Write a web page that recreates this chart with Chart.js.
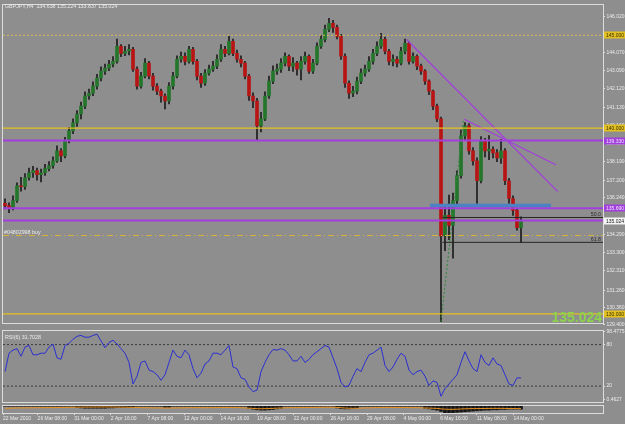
<!DOCTYPE html>
<html>
<head>
<meta charset="utf-8">
<title>GBPJPY,H4</title>
<script src="https://cdn.jsdelivr.net/npm/chart.js@4.4.1/dist/chart.umd.min.js"></script>
<style>
  html, body { margin: 0; padding: 0; background: #8e8e8e; }
  #wrap { position: relative; width: 625px; height: 424px; overflow: hidden; background: #8e8e8e; }
  canvas { position: absolute; left: 0; }
</style>
</head>
<body>
<div id="wrap">
  <canvas id="priceChart" width="625" height="332" style="top:0"></canvas>
  <canvas id="rsiChart" width="625" height="80" style="top:326px"></canvas>
  <canvas id="oscChart" width="625" height="20" style="top:404px"></canvas>
</div>
<script>
// ---- data (H4 bars, 22 Mar - 14 May 2010) ----
const candleOpen = [
  135.95,135.83,135.72,136.10,136.90,136.85,137.33,137.60,137.71,137.49,
  137.60,137.82,137.98,138.24,138.78,138.51,139.32,139.85,140.28,140.76,
  141.19,141.73,141.89,142.26,142.69,143.07,143.23,143.44,143.60,144.41,
  144.03,144.14,144.25,143.18,142.26,142.80,143.50,142.80,142.26,141.99,
  141.73,141.46,142.26,142.80,143.71,143.87,143.60,144.25,143.60,142.80,
  142.42,142.96,143.18,143.34,143.71,144.25,144.03,144.68,144.03,143.71,
  143.50,142.80,141.73,141.46,140.12,140.50,141.73,142.53,143.07,143.18,
  143.50,143.87,143.34,143.50,143.18,143.60,143.87,143.07,143.50,144.41,
  144.78,145.32,145.64,145.43,144.94,143.87,142.42,141.89,141.99,142.53,
  142.96,143.18,143.60,144.03,144.41,144.78,144.14,143.60,143.71,143.50,
  144.14,144.57,143.60,143.87,143.34,143.07,142.53,141.99,141.19,140.50,
  134.20,135.30,134.76,136.10,137.44,139.58,140.12,138.78,138.24,137.17,
  139.32,138.78,138.86,138.67,138.40,138.78,137.17,136.21,135.57,134.64
];
const candleHigh = [
  136.20,135.98,136.35,137.05,137.35,137.55,137.85,137.95,137.85,137.80,
  138.05,138.20,138.45,139.05,138.90,139.50,140.05,140.50,140.95,141.40,
  141.95,142.10,142.50,142.90,143.30,143.45,143.65,143.85,144.80,144.50,
  144.40,144.50,144.35,143.30,143.00,143.75,143.60,142.95,142.40,142.10,
  141.85,142.45,143.00,143.90,144.10,144.05,144.41,144.35,143.70,142.95,
  143.15,143.40,143.60,143.95,144.50,144.40,144.94,144.80,144.20,143.90,
  143.60,142.90,141.90,141.60,140.85,141.95,142.80,143.35,143.45,143.75,
  144.05,143.95,143.80,143.60,143.85,144.10,143.95,143.70,144.60,145.00,
  145.55,145.91,145.80,145.55,145.05,144.00,142.55,142.25,142.75,143.20,
  143.40,143.85,144.25,144.65,145.10,144.90,144.25,143.95,143.85,144.35,
  144.80,144.65,144.05,143.95,143.45,143.15,142.60,142.05,141.30,140.60,
  135.90,136.40,136.50,137.70,139.90,140.30,140.25,138.95,138.40,139.55,
  139.45,139.60,139.00,138.85,139.40,138.90,137.30,136.35,135.70,135.22
];
const candleLow = [
  135.65,135.45,135.60,136.00,136.60,136.70,137.20,137.35,137.20,137.10,
  137.45,137.70,137.85,138.15,138.20,138.40,139.20,139.70,140.10,140.50,
  141.05,141.55,141.75,142.10,142.55,142.90,143.10,143.30,143.50,143.85,
  143.90,143.95,143.05,142.10,142.15,142.70,142.65,142.05,141.80,141.40,
  141.03,141.30,142.10,142.70,143.55,143.40,143.50,143.45,142.60,142.20,
  142.30,142.85,143.05,143.20,143.60,143.85,143.95,143.90,143.55,143.30,
  142.65,141.50,141.10,139.32,139.80,140.40,141.60,142.40,142.90,143.00,
  143.35,143.10,143.05,142.85,142.60,143.45,142.95,142.95,143.40,144.30,
  144.65,145.20,145.15,144.80,143.70,142.20,141.60,141.70,141.85,142.40,
  142.80,143.05,143.45,143.90,144.30,144.00,143.40,143.35,143.30,143.40,
  144.00,143.45,143.50,143.15,142.90,142.35,141.80,141.00,140.35,129.58,
  133.40,134.00,133.00,135.90,137.30,139.40,138.60,138.00,135.95,137.05,
  138.45,138.30,138.40,138.20,138.10,136.95,135.95,135.30,134.50,133.84
];
const candleClose = [
  135.83,135.72,136.10,136.90,136.85,137.33,137.60,137.71,137.49,137.60,
  137.82,137.98,138.24,138.78,138.51,139.32,139.85,140.28,140.76,141.19,
  141.73,141.89,142.26,142.69,143.07,143.23,143.44,143.60,144.41,144.03,
  144.14,144.25,143.18,142.26,142.80,143.50,142.80,142.26,141.99,141.73,
  141.46,142.26,142.80,143.71,143.87,143.60,144.25,143.60,142.80,142.42,
  142.96,143.18,143.34,143.71,144.25,144.03,144.68,144.03,143.71,143.50,
  142.80,141.73,141.46,140.12,140.50,141.73,142.53,143.07,143.18,143.50,
  143.87,143.34,143.50,143.18,143.60,143.87,143.07,143.50,144.41,144.78,
  145.32,145.64,145.43,144.94,143.87,142.42,141.89,141.99,142.53,142.96,
  143.18,143.60,144.03,144.41,144.78,144.14,143.60,143.71,143.50,144.14,
  144.57,143.60,143.87,143.34,143.07,142.53,141.99,141.19,140.50,134.20,
  135.30,134.76,136.10,137.44,139.58,140.12,138.78,138.24,137.17,139.32,
  138.78,138.86,138.67,138.40,138.78,137.17,136.21,135.57,134.64,135.02
];

const rsiValues = [
  40.9,67.6,72.0,74.2,63.1,76.4,78.7,65.3,65.3,67.6,
  67.6,76.4,80.9,60.9,58.7,78.7,81.8,87.6,92.0,93.3,
  90.7,90.7,93.3,95.1,85.3,75.6,83.1,86.2,80.9,74.2,
  67.6,54.2,23.1,34.2,54.2,56.4,43.1,40.9,36.4,28.4,
  36.4,54.2,72.0,63.1,60.9,72.0,65.3,45.3,32.0,38.7,
  52.0,56.4,67.6,67.6,65.3,72.0,78.7,47.6,45.3,32.0,
  29.8,18.7,12.0,14.2,40.9,54.2,65.3,72.9,72.0,74.2,
  72.0,65.3,56.4,56.4,63.1,54.2,58.7,65.3,69.8,74.2,
  78.7,76.4,60.9,45.3,25.3,18.7,20.9,34.2,45.3,40.9,
  54.2,65.3,67.6,72.0,76.4,49.8,40.9,47.6,58.7,67.6,
  63.1,43.1,36.4,40.9,43.1,34.2,20.9,27.6,25.3,5.3,
  16.4,23.1,29.8,36.4,54.2,69.8,56.4,45.3,40.9,65.3,
  54.2,49.8,60.9,52.0,49.8,36.4,23.1,20.9,32.0,31.7
];
const rsiLevels = [80, 20];
const rsiTicks = [98.4775, 80, 20, 0.4627];

const oscLine = [
  -0.30,-0.30,-0.28,-0.26,-0.25,-0.24,-0.24,-0.23,-0.22,-0.22,
  -0.21,-0.20,-0.20,-0.19,-0.18,-0.17,-0.16,-0.15,-0.14,-0.13,
  -0.12,-0.12,-0.11,-0.11,-0.10,-0.10,-0.10,-0.11,-0.12,-0.13,
  -0.14,-0.15,-0.17,-0.19,-0.21,-0.22,-0.23,-0.24,-0.25,-0.26,
  -0.27,-0.27,-0.26,-0.25,-0.24,-0.23,-0.22,-0.21,-0.21,-0.22,
  -0.22,-0.22,-0.21,-0.20,-0.19,-0.18,-0.18,-0.19,-0.20,-0.22,
  -0.25,-0.29,-0.33,-0.37,-0.38,-0.37,-0.35,-0.32,-0.29,-0.26,
  -0.24,-0.22,-0.21,-0.20,-0.20,-0.19,-0.19,-0.18,-0.17,-0.16,
  -0.15,-0.14,-0.15,-0.18,-0.22,-0.27,-0.30,-0.31,-0.30,-0.28,
  -0.26,-0.24,-0.22,-0.20,-0.18,-0.17,-0.17,-0.18,-0.19,-0.19,
  -0.19,-0.20,-0.21,-0.22,-0.24,-0.26,-0.28,-0.30,-0.33,-0.40,
  -0.45,-0.47,-0.47,-0.45,-0.42,-0.39,-0.37,-0.36,-0.36,-0.35,
  -0.34,-0.33,-0.32,-0.32,-0.32,-0.33,-0.34,-0.35,-0.36,-0.36
];
const oscHist = [
  0,0,0,0,0,0,0,0,0,0,
  0,0,0,0,0,0,0,0,-0.2,-0.25,
  -0.3,-0.3,-0.3,-0.3,-0.3,-0.3,-0.25,-0.25,-0.2,-0.2,
  -0.2,-0.2,-0.2,0,0,0,0,0,0,0,
  -0.15,-0.15,0,0,0,0,0,0,0,0,
  0,0,0,0,0,0,0,0,0,0,
  0,-0.3,-0.45,-0.55,-0.6,-0.6,-0.55,-0.5,-0.4,-0.3,
  0,0,0,0,0,0,0,0,0,0,
  0,0,0,-0.25,-0.35,-0.4,-0.4,-0.35,-0.25,0,
  0,0,0,0,0,0,0,0,0,0,
  0,0,0,0,0,-0.3,-0.4,-0.5,-0.6,-0.8,
  -1.0,-1.0,-1.0,-0.95,-0.9,-0.85,-0.8,-0.75,-0.7,-0.65,
  -0.6,-0.6,-0.55,-0.55,-0.5,-0.5,-0.45,-0.45,-0.45,-0.45
];

// price axis labels as printed by the terminal
const priceTicks = [146.020, 145.030, 144.070, 143.090, 142.120, 141.130, 140.160, 139.190,
  138.190, 137.200, 136.240, 134.290, 133.300, 132.310, 131.260, 130.360, 129.400];

// bottom time axis
const dateLabels = ["22 Mar 2010", "26 Mar 08:00", "31 Mar 00:00", "2 Apr 16:00", "7 Apr 08:00",
  "12 Apr 00:00", "14 Apr 16:00", "19 Apr 08:00", "22 Apr 00:00", "26 Apr 16:00",
  "29 Apr 08:00", "4 May 00:00", "6 May 16:00", "11 May 08:00", "14 May 00:00"];
const dateIndex = [-0.5, 8.15, 17.3, 26.45, 35.6, 44.75, 53.9, 63.05, 72.2, 81.35,
  90.5, 99.65, 108.8, 117.95, 127.1];

// drawn objects (price levels, trend lines, fibo)
const yellowLevels = [145.0, 140.0, 130.0];
const purpleLevels = [139.33, 135.69, 135.03];
const buyLevel = 134.22;
const bidPrice = 135.024;
const zonePrice = 135.83;
const zoneSpan = [106.25, 136.5];
const fiboLevels = [135.19, 133.85];
const fiboNames = ["50.0", "61.8"];
const fiboStart = 109.4;
const trendLines = [
  [100.4, 144.77, 138.2, 136.58],
  [114.8, 140.48, 137.7, 138.03],
];
const swingLine = [109.0, 129.58, 114.6, 140.49];
const lastBar = { open: 134.638, high: 135.224, low: 133.837, close: 135.024 };
const rsiLast = 31.7028;

// ---- look ----
const FONT = "'Liberation Sans', Arial, sans-serif";
const AXIS_TEXT = "#ececec";
const FRAME = "#dcdcdc";
const YELLOW = "#e3c021";
const PURPLE = "#a23fdc";
const X_MIN = -0.5;
const X_MAX = 149.5;
const AXIS_W = 22;

function hiddenX() {
  return { type: "linear", min: X_MIN, max: X_MAX, offset: false, display: false };
}

function segment(x0, y0, x1, y1, color, width, dash) {
  return {
    type: "line",
    data: [{ x: x0, y: y0 }, { x: x1, y: y1 }],
    borderColor: color,
    borderWidth: width,
    borderDash: dash || [],
    pointRadius: 0,
    order: 0,
  };
}

const paneFrame = {
  id: "paneFrame",
  afterDraw(chart) {
    const a = chart.chartArea;
    const ctx = chart.ctx;
    ctx.save();
    ctx.strokeStyle = FRAME;
    ctx.lineWidth = 1;
    ctx.strokeRect(Math.round(a.left) - 0.5, Math.round(a.top) - 0.5,
      Math.round(a.right - a.left) + 1, Math.round(a.bottom - a.top) + 1);
    ctx.restore();
  },
};

function axisTag(ctx, scale, value, fill, textColor) {
  const y = Math.round(scale.getPixelForValue(value));
  ctx.fillStyle = fill;
  ctx.fillRect(scale.left + 1, y - 3.5, AXIS_W, 7);
  ctx.fillStyle = textColor;
  ctx.font = `5px ${FONT}`;
  ctx.textBaseline = "middle";
  ctx.textAlign = "left";
  ctx.fillText(value.toFixed(3), scale.left + 3, y + 0.5);
}

const priceDecor = {
  id: "priceDecor",
  afterDraw(chart) {
    const ctx = chart.ctx;
    const a = chart.chartArea;
    const y = chart.scales.y;
    ctx.save();

    ctx.font = `5.3px ${FONT}`;
    ctx.fillStyle = AXIS_TEXT;
    ctx.textBaseline = "middle";
    ctx.textAlign = "left";
    ctx.fillText(`GBPJPY,H4  ${lastBar.open.toFixed(3)} ${lastBar.high.toFixed(3)} ${lastBar.low.toFixed(3)} ${lastBar.close.toFixed(3)}`, a.left + 2, 7);
    ctx.fillText("#04802998 buy", a.left + 1, y.getPixelForValue(buyLevel) - 2.5);

    ctx.fillStyle = "#2a2a2a";
    ctx.textAlign = "right";
    ctx.textBaseline = "alphabetic";
    fiboLevels.forEach((lv, i) => {
      ctx.fillText(fiboNames[i], a.right - 2, y.getPixelForValue(lv) - 1.5);
    });

    ctx.font = `bold 14px ${FONT}`;
    ctx.fillStyle = "#8fd24c";
    ctx.fillText(bidPrice.toFixed(3), a.right - 1, a.bottom);

    yellowLevels.forEach((lv) => axisTag(ctx, y, lv, YELLOW, "#3a3000"));
    purpleLevels.slice(0, 2).forEach((lv) => axisTag(ctx, y, lv, PURPLE, "#f0e0ff"));
    axisTag(ctx, y, bidPrice, "#f4f4f4", "#222");
    ctx.restore();
  },
};

const rsiDecor = {
  id: "rsiDecor",
  afterDraw(chart) {
    const ctx = chart.ctx;
    const a = chart.chartArea;
    ctx.save();
    ctx.font = `5.3px ${FONT}`;
    ctx.fillStyle = AXIS_TEXT;
    ctx.textBaseline = "middle";
    ctx.fillText(`RSI(6) ${rsiLast.toFixed(4)}`, a.left + 2, a.top + 7);
    ctx.restore();
  },
};

function rightAxis(min, max, ticks, fmt) {
  return {
    position: "right",
    min: min,
    max: max,
    bounds: "data",
    afterFit(s) { s.width = AXIS_W; },
    afterBuildTicks(s) { s.ticks = ticks.map((v) => ({ value: v })); },
    ticks: {
      autoSkip: false,
      color: AXIS_TEXT,
      padding: 1.5,
      font: { family: FONT, size: 5 },
      callback: fmt,
    },
    grid: { drawOnChartArea: false, tickLength: 2, color: FRAME },
    border: { display: false },
  };
}

Chart.defaults.animation = false;
Chart.defaults.responsive = false;
Chart.defaults.plugins.legend.display = false;
Chart.defaults.plugins.tooltip.enabled = false;

// ---- main price pane ----
const barIdx = candleClose.map((_, i) => i);
const priceDatasets = [
  {
    type: "bar",
    data: barIdx.map((i) => ({ x: i, y: [candleLow[i], candleHigh[i]] })),
    backgroundColor: "#1c1c1c",
    barThickness: 1,
    grouped: false,
    order: 3,
  },
  {
    type: "bar",
    data: barIdx.map((i) => ({ x: i, y: [candleOpen[i], candleClose[i]] })),
    backgroundColor: barIdx.map((i) => (candleClose[i] >= candleOpen[i] ? "#23762a" : "#b81414")),
    borderColor: "#161616",
    borderWidth: 0,
    barThickness: 3,
    grouped: false,
    order: 2,
  },
  segment(X_MIN, yellowLevels[0], X_MAX, yellowLevels[0], "#d9bd55", 1, [2, 2]),
  segment(X_MIN, yellowLevels[1], X_MAX, yellowLevels[1], YELLOW, 1.2),
  segment(X_MIN, yellowLevels[2], X_MAX, yellowLevels[2], YELLOW, 1.2),
  ...purpleLevels.map((lv) => segment(X_MIN, lv, X_MAX, lv, PURPLE, 2)),
  segment(X_MIN, buyLevel, X_MAX, buyLevel, "#d6b43a", 1, [6, 3, 1, 3]),
  segment(zoneSpan[0], zonePrice, zoneSpan[1], zonePrice, "#4a82c4", 3.5),
  ...fiboLevels.map((lv) => segment(fiboStart, lv, X_MAX, lv, "#262626", 1)),
  ...trendLines.map((t) => segment(t[0], t[1], t[2], t[3], PURPLE, 1.3)),
  segment(swingLine[0], swingLine[1], swingLine[2], swingLine[3], "#2f8a3a", 1, [2, 2]),
];

new Chart(document.getElementById("priceChart"), {
  type: "bar",
  data: { datasets: priceDatasets },
  options: {
    layout: { padding: { left: 3, top: 3, right: 0, bottom: 10 } },
    scales: {
      x: hiddenX(),
      y: rightAxis(129.561, 146.659, priceTicks, (v) => Number(v).toFixed(3)),
    },
  },
  plugins: [paneFrame, priceDecor],
});

// ---- RSI pane ----
new Chart(document.getElementById("rsiChart"), {
  type: "line",
  data: {
    datasets: [
      {
        data: rsiValues.map((v, i) => ({ x: i, y: v })),
        borderColor: "#2b2fd0",
        borderWidth: 1,
        pointRadius: 0,
        tension: 0,
        order: 0,
      },
      ...rsiLevels.map((lv) => segment(X_MIN, lv, X_MAX, lv, "#3a3a3a", 1, [2, 2])),
    ],
  },
  options: {
    layout: { padding: { left: 3, top: 2, right: 0, bottom: 1 } },
    scales: {
      x: hiddenX(),
      y: rightAxis(-2.27, 100.4, rsiTicks, (v) => String(v)),
    },
  },
  plugins: [paneFrame, rsiDecor],
});

// ---- oscillator pane + time axis ----
new Chart(document.getElementById("oscChart"), {
  type: "bar",
  data: {
    datasets: [
      {
        type: "line",
        data: oscLine.map((v, i) => ({ x: i, y: v })),
        borderColor: "#e8901e",
        borderWidth: 1,
        pointRadius: 0,
        order: 0,
      },
      {
        type: "bar",
        data: oscHist.map((v, i) => ({ x: i, y: v })),
        backgroundColor: "#141414",
        barThickness: 3,
        grouped: false,
        order: 1,
      },
    ],
  },
  options: {
    layout: { padding: { left: 3, top: 2, right: 0, bottom: 0 } },
    scales: {
      x: {
        type: "linear",
        min: X_MIN,
        max: X_MAX,
        offset: false,
        afterFit(s) { s.height = 11; },
        afterBuildTicks(s) { s.ticks = dateIndex.map((v) => ({ value: v })); },
        ticks: {
          autoSkip: false,
          maxRotation: 0,
          minRotation: 0,
          align: "start",
          color: AXIS_TEXT,
          padding: 1,
          font: { family: FONT, size: 5 },
          callback: (v, i) => dateLabels[i],
        },
        grid: { drawOnChartArea: false, offset: false, tickLength: 2, color: FRAME },
        border: { display: false },
      },
      y: {
        position: "right",
        min: -1.05,
        max: 0.05,
        afterFit(s) { s.width = AXIS_W; },
        ticks: { display: false },
        grid: { display: false },
        border: { display: false },
      },
    },
  },
  plugins: [paneFrame],
});
</script>
</body>
</html>
